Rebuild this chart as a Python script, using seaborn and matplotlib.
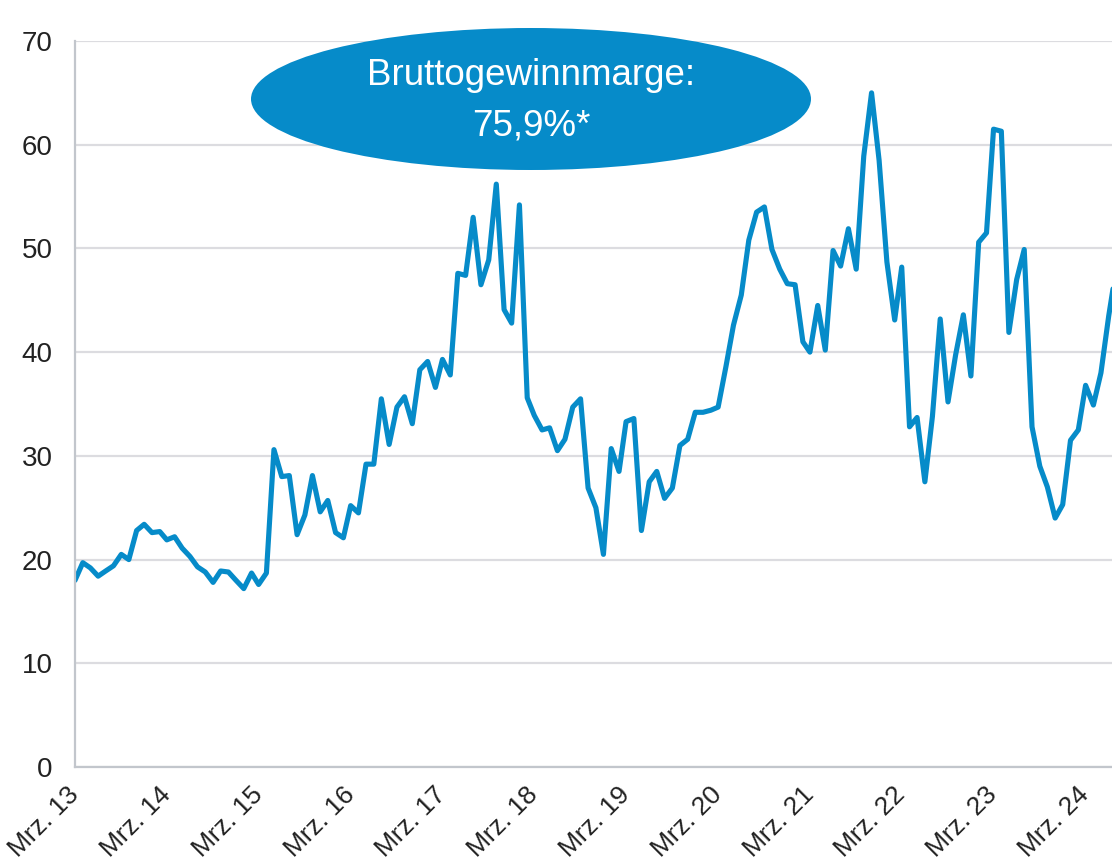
import pandas as pd
import matplotlib.pyplot as plt
import seaborn as sns
from matplotlib.patches import Ellipse

# Monthly values, Mar 2013 - Jul 2024
values = [
    18.0, 19.7, 19.2, 18.4, 18.9, 19.4, 20.5, 20.0, 22.8, 23.4,              # 2013 Mar-Dec
    22.6, 22.7, 21.9, 22.2, 21.1, 20.3, 19.3, 18.8, 17.8, 18.9, 18.8, 18.0,  # 2014
    17.2, 18.7, 17.6, 18.7, 30.6, 28.0, 28.1, 22.4, 24.3, 28.1, 24.6, 25.7,  # 2015
    22.6, 22.1, 25.2, 24.5, 29.2, 29.2, 35.5, 31.1, 34.7, 35.7, 33.1, 38.3,  # 2016
    39.1, 36.6, 39.3, 37.8, 47.6, 47.4, 53.0, 46.5, 48.9, 56.2, 44.1, 42.8,  # 2017
    54.2, 35.6, 33.9, 32.5, 32.7, 30.5, 31.6, 34.7, 35.5, 26.9, 25.0, 20.5,  # 2018
    30.7, 28.5, 33.3, 33.6, 22.8, 27.5, 28.5, 25.9, 26.9, 31.0, 31.6, 34.2,  # 2019
    34.2, 34.4, 34.7, 38.6, 42.6, 45.5, 50.8, 53.5, 54.0, 49.9, 48.0, 46.6,  # 2020
    46.5, 41.0, 40.0, 44.5, 40.2, 49.8, 48.3, 51.9, 48.0, 58.9, 65.0, 58.5,  # 2021
    48.7, 43.1, 48.2, 32.8, 33.7, 27.5, 33.8, 43.2, 35.2, 39.7, 43.6, 37.7,  # 2022
    50.6, 51.5, 61.5, 61.3, 41.9, 47.0, 49.9, 32.8, 29.0, 27.0, 24.0, 25.3,  # 2023
    31.5, 32.5, 36.8, 34.9, 38.0, 43.5, 48.1,                                # 2024 Jan-Jul
]
dates = pd.date_range("2013-03-01", periods=len(values), freq="MS")
tick_years = list(range(2013, 2025))
tick_labels = [f"Mrz. {y % 100:02d}" for y in tick_years]
y_ticks = [0, 10, 20, 30, 40, 50, 60, 70]

df = pd.DataFrame({"Datum": dates, "Wert": values})

blue = "#068BC9"
grid_col = "#DCDCE0"
spine_col = "#C2C6CC"
text_col = "#222222"

sns.set_theme(style="white")
plt.rcParams["font.family"] = ["Liberation Sans", "DejaVu Sans"]

fig = plt.figure(figsize=(11.12, 8.68), dpi=100)
ax = fig.add_axes([75 / 1112, 101 / 868, 1037 / 1112, 726 / 868])

sns.lineplot(data=df, x="Datum", y="Wert", ax=ax, color=blue, linewidth=3.7)
ax.lines[0].set_solid_joinstyle("round")

ax.set_ylim(0, 70)
ax.set_xlim(pd.Timestamp("2013-03-01"), pd.Timestamp("2024-06-14"))
ax.set_yticks(y_ticks)
ax.set_xticks(pd.to_datetime([f"{y}-03-01" for y in tick_years]))
ax.set_xticklabels(tick_labels, rotation=45, ha="right", va="center",
                   rotation_mode="anchor")
ax.set_xlabel("")
ax.set_ylabel("")

ax.grid(axis="y", color=grid_col, linewidth=1.6)
ax.grid(axis="x", visible=False)
ax.set_axisbelow(True)
for side in ["top", "right"]:
    ax.spines[side].set_visible(False)
for side in ["left", "bottom"]:
    ax.spines[side].set_color(spine_col)
    ax.spines[side].set_linewidth(1.6)
ax.tick_params(axis="both", which="major", length=6, width=1.2, color=spine_col,
               labelcolor=text_col, direction="out")
ax.tick_params(axis="y", pad=10, labelsize=20)
ax.tick_params(axis="x", pad=11, labelsize=19)

# callout ellipse
fig.add_artist(Ellipse((531 / 1112, 1 - 99 / 868), 560 / 1112, 142 / 868,
                       transform=fig.transFigure, facecolor=blue,
                       edgecolor="none", zorder=5))
fig.text(531 / 1112, 1 - 85 / 868, "Bruttogewinnmarge:", color="white",
         fontsize=26.5, ha="center", va="baseline", zorder=6)
fig.text(531 / 1112, 1 - 135 / 868, "75,9%*", color="white",
         fontsize=26.5, ha="center", va="baseline", zorder=6)

fig.savefig("out.png", dpi=100)
plt.close(fig)
